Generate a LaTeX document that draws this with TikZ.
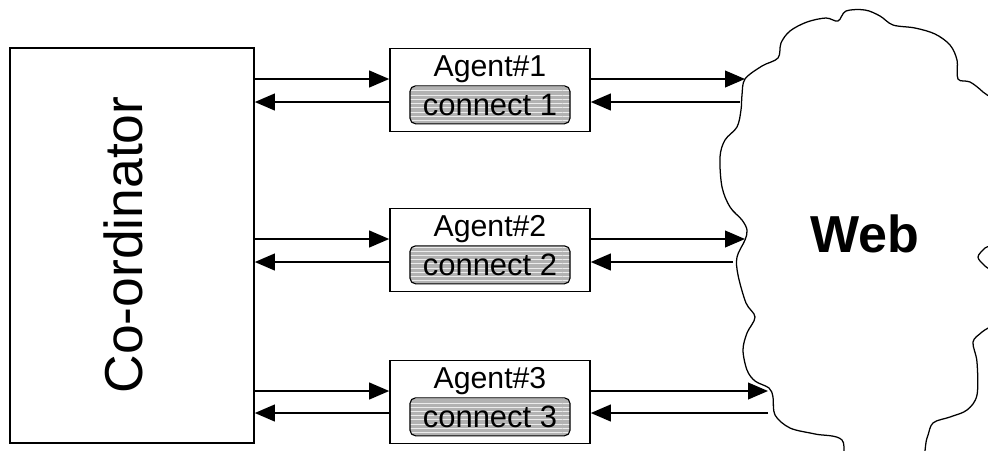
\documentclass[tikz,border=0pt]{standalone}
\usepackage{fontspec}
\setmainfont{Liberation Sans}
\usetikzlibrary{arrows.meta,positioning,patterns}

\begin{document}
\begin{tikzpicture}[
  x=0.025cm, y=-0.025cm,
  coordbox/.style={rectangle, draw, line width=1.1pt, minimum width=6.1cm, minimum height=9.875cm, inner sep=0pt},
  agent/.style={rectangle, draw, line width=1.1pt, minimum width=5cm, minimum height=2.08cm, inner sep=0pt},
  conn/.style={rectangle, draw, line width=0.8pt, rounded corners=4pt, minimum width=4cm, minimum height=0.95cm, inner sep=0pt,
    preaction={fill=gray!60}, pattern=horizontal lines, pattern color=white!85!gray, font=\fontsize{22}{22}\selectfont},
  alabel/.style={inner sep=0pt, font=\fontsize{21.5}{21.5}\selectfont},
  link/.style={-{Triangle[length=0.5cm, width=0.42cm]}, line width=1.1pt},
]
\useasboundingbox (0,0) rectangle (988,450);

% the web cloud
\draw[line width=0.9pt, fill=white] plot[smooth cycle, tension=0.55] coordinates {
  (745,79) (762,66) (778,58) (781,43) (790,31) (807,22) (826,18) (838,21)
  (846,11) (865,10) (880,16) (893,25) (915,28) (935,34) (950,45) (957,60)
  (958,79) (970,82) (983,92) (1000,110) (1005,170) (995,238) (985,248)
  (978,257) (985,266) (1000,280) (995,320) (982,332) (973,342) (977,362)
  (977,395) (967,410) (950,417) (933,423) (927,438) (915,470) (850,470)
  (842,440) (815,434) (790,428) (775,415) (773,397) (769,388) (755,381)
  (747,370) (743,350) (747,333) (755,317) (746,303) (738,275) (737,257)
  (745,240) (747,230) (742,220) (730,207) (722,187) (720,157) (725,140)
  (737,127) (741,110) (742,95)};
\node[font=\fontsize{37}{37}\selectfont\bfseries] (web) at (865,234) {Web};
\coordinate (w1in) at (745,79);
\coordinate (w1out) at (740,102);
\coordinate (w2in) at (745,239);
\coordinate (w2out) at (733,262);
\coordinate (w3in) at (768,391);
\coordinate (w3out) at (768,413);

% co-ordinator
\node[coordbox] (coord) at (132,245.5) {};
\node[rotate=90, inner sep=0pt, font=\fontsize{38}{38}\selectfont] (coordtext) at (123,245) {Co-ordinator};

% agents
\node[agent] (a1) at (490,90) {};
\node[conn, anchor=south] (c1) at ([yshift=0.2cm]a1.south) {connect 1};
\node[alabel, above=0.05cm of c1] (l1) {Agent\#1};

\node[agent] (a2) at (490,250) {};
\node[conn, anchor=south] (c2) at ([yshift=0.2cm]a2.south) {connect 2};
\node[alabel, above=0.05cm of c2] (l2) {Agent\#2};

\node[agent] (a3) at (490,402) {};
\node[conn, anchor=south] (c3) at ([yshift=0.2cm]a3.south) {connect 3};
\node[alabel, above=0.05cm of c3] (l3) {Agent\#3};

% co-ordinator <-> agents
\draw[link] ([yshift=0.275cm]a1.west -| coord.east) -- ([yshift=0.275cm]a1.west);
\draw[link] ([yshift=-0.3cm]a1.west) -- ([yshift=-0.3cm]a1.west -| coord.east);
\draw[link] ([yshift=0.275cm]a2.west -| coord.east) -- ([yshift=0.275cm]a2.west);
\draw[link] ([yshift=-0.3cm]a2.west) -- ([yshift=-0.3cm]a2.west -| coord.east);
\draw[link] ([yshift=0.275cm]a3.west -| coord.east) -- ([yshift=0.275cm]a3.west);
\draw[link] ([yshift=-0.275cm]a3.west) -- ([yshift=-0.275cm]a3.west -| coord.east);

% agents <-> web
\draw[link] (a1.east |- w1in) -- (w1in);
\draw[link] (w1out) -- (a1.east |- w1out);
\draw[link] (a2.east |- w2in) -- (w2in);
\draw[link] (w2out) -- (a2.east |- w2out);
\draw[link] (a3.east |- w3in) -- (w3in);
\draw[link] (w3out) -- (a3.east |- w3out);
\end{tikzpicture}
\end{document}
